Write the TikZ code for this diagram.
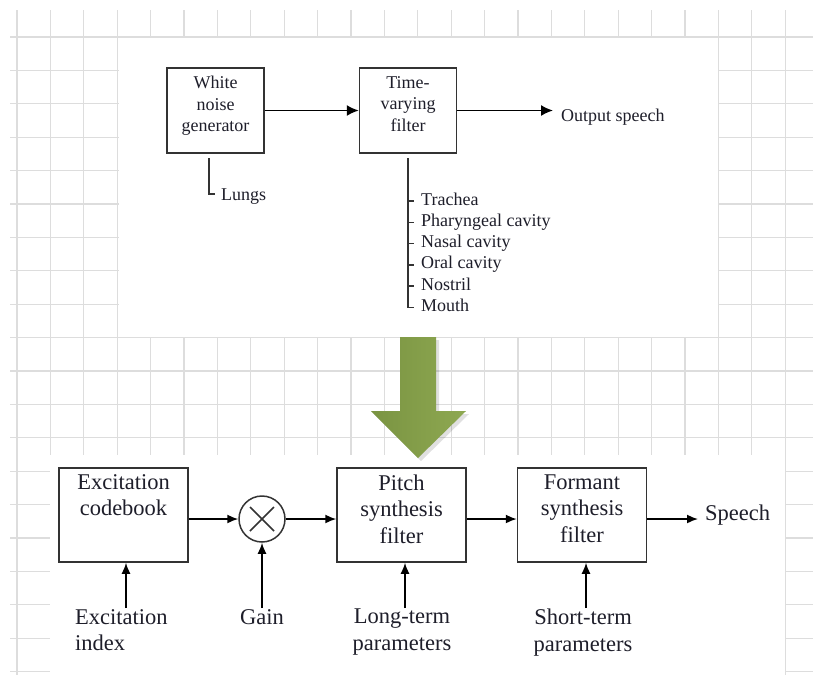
\documentclass[tikz,border=0pt]{standalone}
\usepackage{fontspec}
\setmainfont{Liberation Serif}
\usetikzlibrary{arrows.meta}
\definecolor{gridc}{HTML}{DDDDDD}
\definecolor{oliveA}{HTML}{7A9442}
\definecolor{oliveB}{HTML}{8EA851}
\definecolor{boxc}{HTML}{333333}
\definecolor{txtc}{HTML}{1E1E2A}
\begin{document}
\begin{tikzpicture}[x=1pt,y=-1pt,
  gridline/.style={draw=gridc,line width=1.1pt},
  tbox/.style={draw=boxc,line width=1.5pt,minimum width=97pt,minimum height=85pt,inner sep=0pt},
  bbox/.style={draw=boxc,line width=1.5pt,minimum width=129pt,minimum height=94pt,inner sep=0pt},
  ttext/.style={text=txtc,font=\fontsize{18}{21.5}\selectfont,align=center,inner sep=0pt},
  btext/.style={text=txtc,font=\fontsize{22.5}{26.5}\selectfont,align=center,inner sep=0pt},
  tarr/.style={draw=black,line width=1.6pt,-{Latex[length=12pt,width=11pt]}},
  arr/.style={draw=black,line width=1.6pt,-{Latex[length=11pt,width=9pt]}},
  brk/.style={draw=boxc,line width=1.5pt}]
\useasboundingbox (0,0) rectangle (813,675);
\fill[white] (0,0) rectangle (813,675);
% grid
\foreach \i in {0,...,23} \draw[gridline] ({17+33.4*\i},10) -- ({17+33.4*\i},675);
\foreach \j in {0,...,19} \draw[gridline] (10,{37+33.4*\j}) -- (813,{37+33.4*\j});
% white panels
\fill[white] (118.6,37.6) rectangle (718,337);
\fill[white] (50,455) rectangle (784.6,675);
% ---------- top diagram ----------
\node[tbox] (wng) at (215.5,110.5) {};
\node[ttext,anchor=north] (wngt) at ([yshift=-9pt]wng.north) {White\\noise\\generator};
\node[tbox] (tvf) at (408,110.5) {};
\node[ttext,anchor=north] (tvft) at ([yshift=-9pt]tvf.north) {Time-\\varying\\filter};
\draw[tarr] (wng.east) -- (tvf.west);
\coordinate (outend) at (553,110.5);
\draw[tarr] (tvf.east) -- (outend);
\node[ttext,anchor=base west] (out) at (561,121) {Output speech};
% lungs
\coordinate (lt) at (209,158);
\node[ttext,anchor=base west] (lungs) at (221,200) {Lungs};
\draw[brk] (lt) |- ([xshift=-6pt,yshift=6pt]lungs.base west);
% vocal tract list
\coordinate (bt) at (408,158);
\foreach \t [count=\k from 0] in {Trachea,Pharyngeal cavity,Nasal cavity,Oral cavity,Nostril,Mouth}{
  \node[ttext,anchor=base west] (p\k) at (421,{205+21.3*\k}) {\t};
  \draw[brk] ([yshift=4pt]p\k.base west -| bt) -- ++(6,0);
}
\draw[brk] (bt) -- ([yshift=4pt]p5.base west -| bt);
% ---------- green arrow ----------
\fill[black,opacity=0.12] (403,340) -- (439,340) -- (439,414) -- (469,414) -- (421,461) -- (374,414) -- (403,414) -- cycle;
\shade[left color=oliveA,right color=oliveB] (400,337) -- (436,337) -- (436,411) -- (466,411) -- (418,458) -- (371,411) -- (400,411) -- cycle;
% ---------- bottom diagram ----------
\node[bbox] (cb) at (123.5,515) {};
\node[btext,anchor=north] (cbt) at ([yshift=-7pt]cb.north) {Excitation\\codebook};
\node[circle,draw=boxc,line width=1.5pt,minimum size=46pt,inner sep=0pt] (mx) at (262,519) {};
\draw[line width=1.5pt,draw=boxc] (mx.center) +(-12,-12) -- +(12,12) (mx.center) +(-12,12) -- +(12,-12);
\node[bbox] (pf) at (401.5,515) {};
\node[btext,anchor=north] (pft) at ([yshift=-7pt]pf.north) {Pitch\\synthesis\\filter};
\node[bbox] (ff) at (582,515) {};
\node[btext,anchor=north] (fft) at ([yshift=-7pt]ff.north) {Formant\\synthesis\\filter};
\draw[arr] ([yshift=-4pt]cb.east) -- (mx.west);
\draw[arr] (mx.east) -- ([yshift=-4pt]pf.west);
\draw[arr] ([yshift=-4pt]pf.east) -- ([yshift=-4pt]ff.west);
\coordinate (spend) at (698,519);
\draw[arr] ([yshift=-4pt]ff.east) -- (spend);
\node[btext,anchor=base west] (speech) at (705,520) {Speech};
% inputs
\node[btext,align=left,anchor=north west] (ei) at (75,609) {Excitation\\index};
\node[btext,anchor=north] (gain) at (262,609) {Gain};
\node[btext,anchor=north] (ltp) at (402,609) {Long-term\\parameters};
\node[btext,anchor=north] (stp) at (583,609) {Short-term\\parameters};
\draw[arr] ([yshift=1pt]ei.north -| 126,0) -- (cb.south -| 126,0);
\draw[arr] ([yshift=1pt]gain.north) -- (mx.south);
\draw[arr] ([yshift=1pt]ltp.north -| 405,0) -- (pf.south -| 405,0);
\draw[arr] ([yshift=1pt]stp.north -| 586,0) -- (ff.south -| 586,0);
\end{tikzpicture}
\end{document}
